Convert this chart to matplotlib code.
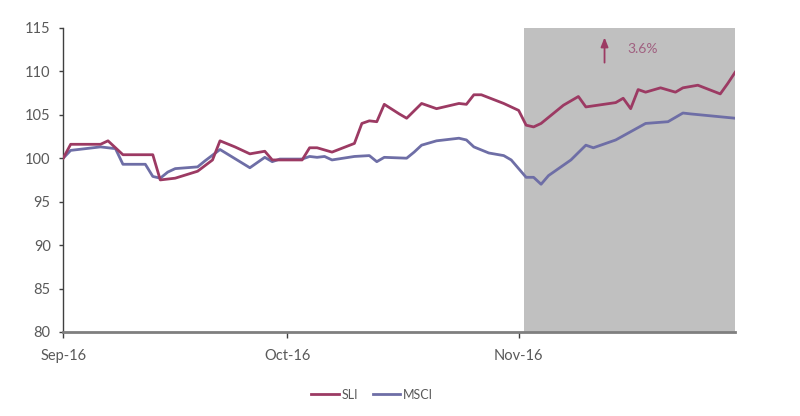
import pandas as pd
import matplotlib.pyplot as plt
import matplotlib.dates as mdates

# =========================
# DONNÉES
# =========================

sli_dates = [
    "2016-09-01", "2016-09-02", "2016-09-06", "2016-09-07", "2016-09-09",
    "2016-09-13", "2016-09-14", "2016-09-16", "2016-09-19", "2016-09-21",
    "2016-09-22", "2016-09-24", "2016-09-26", "2016-09-28", "2016-09-29",
    "2016-10-03", "2016-10-04", "2016-10-05", "2016-10-07", "2016-10-10",
    "2016-10-11", "2016-10-12", "2016-10-13", "2016-10-14", "2016-10-16",
    "2016-10-17", "2016-10-19", "2016-10-21", "2016-10-24", "2016-10-25",
    "2016-10-26", "2016-10-27", "2016-10-30", "2016-11-01", "2016-11-02",
    "2016-11-03", "2016-11-04", "2016-11-07", "2016-11-09", "2016-11-10",
    "2016-11-14", "2016-11-15", "2016-11-16", "2016-11-17", "2016-11-18",
    "2016-11-20", "2016-11-22", "2016-11-23", "2016-11-25", "2016-11-28",
    "2016-11-29", "2016-11-30",
]
sli_values = [
    100.0, 101.6, 101.6, 102.0, 100.4,
    100.4, 97.5, 97.7, 98.5, 99.8,
    102.0, 101.3, 100.5, 100.8, 99.8,
    99.8, 101.2, 101.2, 100.7, 101.7,
    104.0, 104.3, 104.2, 106.2, 105.1,
    104.6, 106.3, 105.7, 106.3, 106.2,
    107.3, 107.3, 106.3, 105.5, 103.8,
    103.6, 104.0, 106.1, 107.1, 105.9,
    106.4, 106.9, 105.7, 107.9, 107.6,
    108.1, 107.6, 108.1, 108.4, 107.4,
    108.6, 109.9,
]

msci_dates = [
    "2016-09-01", "2016-09-02", "2016-09-06", "2016-09-07", "2016-09-08",
    "2016-09-09", "2016-09-12", "2016-09-13", "2016-09-14", "2016-09-15",
    "2016-09-16", "2016-09-19", "2016-09-20", "2016-09-22", "2016-09-26",
    "2016-09-28", "2016-09-29", "2016-09-30", "2016-10-03", "2016-10-04",
    "2016-10-05", "2016-10-06", "2016-10-07", "2016-10-10", "2016-10-12",
    "2016-10-13", "2016-10-14", "2016-10-17", "2016-10-18", "2016-10-19",
    "2016-10-21", "2016-10-24", "2016-10-25", "2016-10-26", "2016-10-28",
    "2016-10-30", "2016-10-31", "2016-11-02", "2016-11-03", "2016-11-04",
    "2016-11-05", "2016-11-08", "2016-11-10", "2016-11-11", "2016-11-14",
    "2016-11-18", "2016-11-21", "2016-11-23", "2016-11-24", "2016-11-30",
]
msci_values = [
    100.0, 100.9, 101.3, 101.2, 101.1,
    99.3, 99.3, 97.9, 97.7, 98.4,
    98.8, 99.0, 99.7, 101.0, 98.9,
    100.1, 99.6, 99.9, 99.9, 100.2,
    100.1, 100.2, 99.8, 100.2, 100.3,
    99.6, 100.1, 100.0, 100.7, 101.5,
    102.0, 102.3, 102.1, 101.3, 100.6,
    100.3, 99.8, 97.8, 97.8, 97.0,
    98.0, 99.8, 101.5, 101.2, 102.1,
    104.0, 104.2, 105.2, 105.1, 104.6,
]

tick_dates = ["2016-09-01", "2016-10-01", "2016-11-01"]
y_ticks = [80, 85, 90, 95, 100, 105, 110, 115]

zone_debut = "2016-11-01 16:00"
zone_fin = "2016-11-30"
hausse_label = "3.6%"

# =========================
# STYLE
# =========================

COULEUR_SLI = "#9C3A63"
COULEUR_MSCI = "#6E6EA6"
COULEUR_TEXTE = "#595959"

plt.rcParams["font.family"] = ["Lato", "DejaVu Sans"]

sli = pd.Series(sli_values, index=pd.to_datetime(sli_dates))
msci = pd.Series(msci_values, index=pd.to_datetime(msci_dates))

# =========================
# GRAPHIQUE
# =========================

fig = plt.figure(figsize=(8, 4.16), dpi=100)
ax = fig.add_axes([0.079, 0.202, 0.84, 0.731])

ax.axvspan(pd.Timestamp(zone_debut), pd.Timestamp(zone_fin),
           color="#C0C0C0", lw=0, zorder=0)

ax.plot(sli.index, sli.values, color=COULEUR_SLI, lw=2, label="SLI", zorder=3)
ax.plot(msci.index, msci.values, color=COULEUR_MSCI, lw=2, label="MSCI", zorder=2)

ax.set_xlim(pd.Timestamp(sli_dates[0]), pd.Timestamp(zone_fin))
ax.set_ylim(80, 115)
ax.set_yticks(y_ticks)
ax.set_xticks(pd.to_datetime(tick_dates))
ax.xaxis.set_major_formatter(mdates.DateFormatter("%b-%y"))

ax.spines["top"].set_visible(False)
ax.spines["right"].set_visible(False)
ax.spines["left"].set_color("#404040")
ax.spines["left"].set_linewidth(1)
ax.spines["bottom"].set_color("#7F7F7F")
ax.spines["bottom"].set_linewidth(2)

ax.tick_params(axis="y", direction="out", length=3, width=1, color="#404040",
               labelsize=10.5, labelcolor=COULEUR_TEXTE, pad=6)
ax.tick_params(axis="x", direction="out", length=4, width=1, color="#404040",
               labelsize=10.5, labelcolor=COULEUR_TEXTE, pad=8)

# Flèche + hausse
x_fleche = pd.Timestamp("2016-11-12 12:00")
ax.annotate("", xy=(x_fleche, 113.9), xytext=(x_fleche, 111.0),
            arrowprops=dict(arrowstyle="-|>,head_width=0.22,head_length=0.55",
                            color=COULEUR_SLI, lw=1.3, shrinkA=0, shrinkB=0))
ax.text(pd.Timestamp("2016-11-15 12:00"), 112.6, hausse_label, color="#A06080",
        fontsize=10, va="center", ha="left")

fig.legend(loc="lower center", bbox_to_anchor=(0.465, 0.01), ncol=2, frameon=False,
           fontsize=9, handlelength=2.2, handletextpad=0.2, columnspacing=1.2,
           labelcolor=COULEUR_TEXTE)

fig.savefig("out.png", dpi=100)
